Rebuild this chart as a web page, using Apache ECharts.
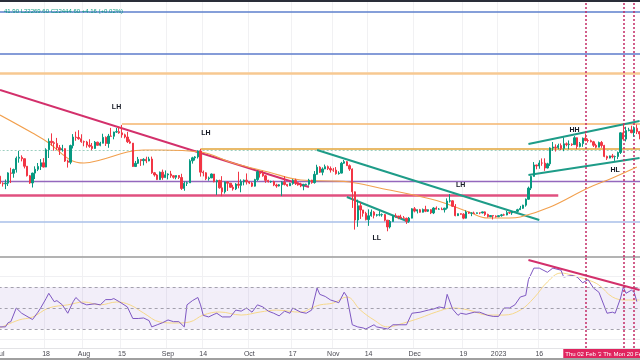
<!DOCTYPE html>
<html><head><meta charset="utf-8">
<script src="https://cdn.jsdelivr.net/npm/echarts@6/dist/echarts.min.js"></script>
<style>html,body{margin:0;padding:0;background:#fff;overflow:hidden}#c{width:640px;height:360px}</style>
</head><body><div id="c"></div>
<script>
// ---------- DATA ----------
const months = [[2022,7,31],[2022,8,31],[2022,9,30],[2022,10,31],[2022,11,30],[2022,12,31],[2023,1,31],[2023,2,23]];
// candles: [open, close, low, high]
const jul = [[19930,19270,18990,20860],[19270,19240,19000,19380],[19240,19300,18780,19630],[19300,20230,19050,20290],[20230,20190,19310,20710],[20190,20550,19790,20630],[20550,21640,20260,21810],[21640,21730,21200,22380],[21730,21590,21330,21930],[21590,20860,20650,21600],[20860,19970,19900,20860],[19970,19320,19240,20040],[19320,20210,18920,20250],[20210,20570,19670,20850],[20570,20840,20400,21170],[20840,21190,20500,21550],[21190,20780,20740,21650],[20780,22490,20770,22650],[22490,23390,21660,23700],[23390,23230,22910,24250],[23230,23160,22400,23390],[23160,22710,22480,23750],[22710,22470,21960,22990],[22470,22610,22300,23010],[22610,21360,21270,22650],[21360,21240,20730,21490],[21240,22930,21050,23030],[22930,23840,22630,24170],[23840,23800,23440,24440],[23800,23660,23550,24610],[23660,23340,23220,24150]];
const aug = [[23340,23310,22860,23460],[23310,22980,22710,23430],[22980,22850,22700,23610],[22850,22630,22450,23200],[22630,23290,22590,23420],[23290,22960,22930,23340],[22960,23180,22860,23330],[23180,23810,23160,24210],[23810,23150,22890,23910],[23150,23950,22700,24190],[23950,23930,23910,24870],[23930,24400,23600,24440],[24400,24440,24300,24860],[24440,24310,24200,25010],[24310,24090,23770,25210],[24090,23850,23700,24220],[23850,23340,23200,24420],[23340,23190,23120,23590],[23190,20830,20790,23200],[20830,21140,20850,21370],[21140,21520,21080,21770],[21520,21400,20890,21520],[21400,21530,20940,21640],[21530,21370,21150,21790],[21370,21560,21340,21780],[21560,20240,20140,21800],[20240,20040,19890,20320],[20040,19620,19580,20130],[19620,20300,19590,20360],[20300,19800,19600,20540],[19800,20050,19800,20460]];
const sep = [[20050,20130,19640,20190],[20130,19970,19780,20420],[19970,19830,19700,20010],[19830,19990,19650,20000],[19990,19810,19670,20020],[19810,18840,18710,20150],[18840,19290,18640,19440],[19290,19330,19050,19440],[19330,21380,19320,21540],[21380,21680,21110,21780],[21680,21770,21410,21850],[21770,22370,21610,22440],[22370,20300,19890,22580],[20300,20240,19910,20450],[20240,19700,19570,20300],[19700,19770,19520,19890],[19770,20130,19760,20170],[20130,19420,19380,20130],[19420,19540,18290,19620],[19540,18890,18820,19610],[18890,18550,18180,19930],[18550,19410,18400,19460],[19410,19300,18620,19480],[19300,18940,18900,19290],[18940,18800,18650,19160],[18800,19220,18700,19300],[19220,19110,18850,20340],[19110,19430,18510,19640],[19430,19570,19110,19630],[19570,19430,19180,20180]];
const oct = [[19430,19310,19220,19470],[19310,19040,18960,19390],[19040,19620,19000,19690],[19620,20340,19500,20450],[20340,20160,19800,20360],[20160,19960,19880,20430],[19960,19550,19330,20040],[19550,19420,19360,19600],[19420,19450,19330,19520],[19450,19140,19040,19520],[19140,19050,18900,19250],[19050,19160,19010,19220],[19160,19380,18190,19480],[19380,19190,19100,19930],[19190,19070,18990,19210],[19070,19270,19060,19350],[19270,19550,19160,19660],[19550,19330,19140,19700],[19330,19140,19080,19360],[19140,19050,18950,19340],[19050,19170,18680,19250],[19170,19210,19120,19250],[19210,19570,19080,19690],[19570,19350,19250,19600],[19350,20100,19260,20400],[20100,20770,20060,21000],[20770,20290,20220,20860],[20290,20600,20010,20750],[20600,20820,20580,21020],[20820,20640,20500,20930],[20640,20500,20260,20840]];
const nov = [[20500,20490,20330,20700],[20490,20160,20070,20780],[20160,20210,20070,20380],[20210,21150,20180,21280],[21150,21300,21090,21460],[21300,20910,20880,21360],[20910,20590,20420,21030],[20590,18550,17230,20650],[18550,16300,15600,18580],[16300,17400,15800,17900],[17400,17070,16380,17650],[17070,16810,16550,17080],[16810,16330,16270,16930],[16330,16620,15870,17120],[16620,16900,16550,17110],[16900,16660,16420,16980],[16660,16690,16560,16760],[16690,16700,16580,16980],[16700,16710,16550,16800],[16710,16290,16200,16750],[16290,15790,15480,16290],[15790,16190,15680,16300],[16190,16610,16170,16680],[16610,16600,16460,16800],[16600,16520,16360,16600],[16520,16460,16400,16700],[16460,16430,16400,16600],[16430,16210,16010,16480],[16210,16440,16120,16530],[16440,17160,16430,17210]];
const dec = [[17160,16980,16880,17300],[16980,17090,16800,17100],[17090,16890,16860,17150],[16890,17110,16880,17180],[17110,16970,16900,17400],[16970,17090,16910,17110],[17090,16840,16750,17130],[16840,17220,16750,17290],[17220,17130,17110,17350],[17130,17130,17090,17220],[17130,17090,17070,17260],[17090,17210,16870,17240],[17210,17780,17100,18000],[17780,17800,17660,18360],[17800,17360,17300,17850],[17360,16630,16580,17530],[16630,16780,16600,16800],[16780,16740,16700,16800],[16740,16440,16360,16820],[16440,16910,16410,17040],[16910,16820,16760,16920],[16820,16830,16590,16870],[16830,16800,16780,16940],[16800,16850,16790,16870],[16850,16840,16740,16860],[16840,16920,16800,16940],[16920,16720,16610,16960],[16720,16550,16490,16780],[16550,16640,16520,16660],[16640,16600,16340,16650],[16600,16550,16490,16650]];
const jan = [[16550,16630,16520,16640],[16630,16690,16550,16760],[16690,16680,16620,16780],[16680,16860,16660,17000],[16860,16840,16760,16880],[16840,16950,16690,16990],[16950,16960,16910,16970],[16960,17090,16910,17160],[17090,17200,17080,17390],[17200,17450,17150,17480],[17450,17930,17330,17990],[17930,18870,17900,19000],[18870,19910,18700,19970],[19910,20980,19890,21260],[20980,20880,20570,21000],[20880,21170,20620,21440],[21170,21160,20900,21620],[21160,20690,20420,21630],[20690,21090,20660,21190],[21090,22680,20890,22740],[22680,22780,22380,23310],[22780,22720,22310,23060],[22720,22930,22540,23130],[22930,22640,22470,23160],[22640,23120,22350,23800],[23120,23030,22860,23260],[23030,23080,22540,23480],[23080,23030,22890,23160],[23030,23770,23000,23950],[23770,22840,22560,23800],[22840,23140,22740,23310]];
const feb = [[23140,23720,22800,23790],[23720,23470,23380,24240],[23470,23450,23250,23680],[23450,23330,23270,23570],[23330,22960,22780,23430],[22960,22760,22640,23130],[22760,23260,22750,23360],[23260,22940,22700,23420],[22940,21820,21740,23010],[21820,21650,21470,21900],[21650,21870,21630,21900],[21870,21790,21630,22070],[21790,21810,21380,21900],[21810,22220,21550,22310],[22220,24310,22060,24370],[24310,23620,23540,25240],[23620,24570,23370,25000],[24570,24640,24480,24880],[24640,24330,24260,25120],[24330,24830,23880,25040],[24830,24440,24170,25250],[24440,24190,23600,24470],[24190,23950,23620,24560]];

// moving average (orange), sampled: day index from Jul 1, price
const maDays = [0,12,18,26,31,37,47,53,59,74,86,99,111,122,129,140,159,166,173,180,188,192,203,217,226,235];
const maVals = [26380,24290,23210,21470,21170,21470,22260,22470,22470,22260,21170,20320,19585,19495,19405,18880,17950,17460,16910,16450,16450,16530,17300,18880,19770,20790];

// RSI (purple) sampled
const rsiDays = [0,2,3,4,6,8,12,14,15,17,18,20,21,23,25,27,28,30,32,35,37,39,41,42,44,47,49,51,53,55,56,58,60,62,64,66,68,69,71,73,74,75,77,79,80,82,85,87,89,91,93,95,97,99,101,103,105,107,108,111,113,115,117,118,120,122,124,125,127,128,130,132,134,135,138,139,143,145,148,150,152,155,158,160,162,164,165,167,169,170,172,175,177,180,182,184,186,188,190,192,194,195,197,199,202,204,207,208,211,213,215,217,219,221,224,226,227,229,230,231,233,234,235];
const rsiVals = [32,32,36,37,50,45,39,46,50,59,64,56,57,53,45,56,60,55,53,54,53,58,58,59,56,51,40,40,40.5,38,32,34,36,38.6,37,37,32,53,57,60,53,43,41.5,44,45,41.5,41.5,48,47,50,46,53,51,47,45,42.5,47,45,50,46,45,48,69,63,61,57.6,56,55,65,61,34,32,31,30,34,32,30,34,34,34,45,46,48,49,51,50,63,49,43,45,44,46,46,43,42,42,50,50,53,60.5,62,77,88,88,84,88,86,79.5,81,79.5,74,77,69,65,45,46,45,59.5,70,64,67,65,56];
// RSI moving average (yellow) sampled
const rsiMaDays = [0,7,12,18,25,31,37,43,48,53,59,65,70,75,81,89,96,102,111,115,118,123,128,133,138,143,149,155,161,167,173,180,186,192,197,202,207,211,217,221,226,231,236];
const rsiMaVals = [31,38.6,41.4,50,53,55.7,53,55.7,52.9,45.2,36.7,35.7,36.7,43.3,46.2,43.3,46.2,48,46,50,52.9,54.8,60.5,48,38.6,32,35.7,40.5,46.2,50,48,43.3,43.3,48,59.5,74.8,83.3,81.4,76.7,71.9,60.5,57.6,57.6];

// horizontal price levels
const fullLevels = [42300, 34900, 31980, 19495, 16155];
const lastClose = 22444.6;
const segStartDay = [45, 74, 0];
const segEndDay = [237, 237, 206];
const segPrice = [25316, 22575, 18281];
// trend lines (day, price) -> (day, price)
const trendA = [[0,29590],[114,18970]];
const trendB = [[117,22470],[199,16305]];
const trendC = [[128,18117],[151,16155]];
const trendD = [[195,23100],[236,25670]];
const trendE = [[195,20040],[236,21665]];
const rsiTrend = [[195,95.7],[236,67.1]];
// swing labels
const swingText = ['LH','LH','LH','LL','HH','HL'];
const swingDay = [43,76,170,139,212,227];
const swingPrice = [27360,24290,19140,15010,24630,20500];
// vertical markers
const markerDates = ['2023-02-02','2023-02-16','2023-02-20'];
const markerText = ["Thu 02 Feb '23","Thu 16 Feb '23","Mon 20 Feb '23"];
// time axis ticks
const tickDays = [0,17,31,45,62,75,92,108,123,136,153,171,184,199];
const tickText = ['Jul','18','Aug','15','Sep','14','Oct','17','Nov','14','Dec','19','2023','16'];
const legendText = '41.90 L22269.60 C22444.60 +4.16 (+0.02%)';

// ---------- BUILD ----------
const cats = [];
months.forEach(([y,m,n]) => { for (let d = 1; d <= n; d++) cats.push(y + '-' + String(m).padStart(2,'0') + '-' + String(d).padStart(2,'0')); });
const candles = [].concat(jul, aug, sep, oct, nov, dec, jan, feb);
const pairs = (days, vals) => days.map((d, i) => [cats[d], vals[i]]);
const seg = (a, b) => [{coord: [cats[a[0]], a[1]]}, {coord: [cats[b[0]], b[1]]}];

const band = 2.71;
const N = cats.length;
const gLeft = -band / 2;
const gWidth = band * N;
const FONT = 'Liberation Sans';
const isTick = (i) => tickDays.indexOf(i) >= 0;

const up = '#089981', down = '#f23645';
const teal = '#1e9c88', crimson = '#d3306b';

const fullLevelStyle = [
  {color:'#5d7fcc', width:1.5}, {color:'#5d7bcb', width:1.5}, {color:'#f7c891', width:2.5},
  {color:'#9467bd', width:1.3}, {color:'#a8bfe8', width:1.5}];
const segStyle = [{color:'#f4b56d', width:1.5}, {color:'#e2a43a', width:1.5}, {color:'#e0507f', width:2.5}];

const mainLines = [];
fullLevels.forEach((p, i) => mainLines.push({yAxis: p, lineStyle: Object.assign({type:'solid'}, fullLevelStyle[i])}));
mainLines.push({yAxis: lastClose, lineStyle: {color:'#9dcfc0', width:1, type:[2,2]}});
segPrice.forEach((p, i) => { const s = seg([segStartDay[i], p], [segEndDay[i], p]); s[0].lineStyle = Object.assign({type:'solid'}, segStyle[i]); mainLines.push(s); });
[[trendA, crimson, 2], [trendB, teal, 2], [trendC, teal, 2], [trendD, teal, 2], [trendE, teal, 2]].forEach(([t, c, w]) => {
  const s = seg(t[0], t[1]); s[0].lineStyle = {color: c, width: w, type: 'solid'}; mainLines.push(s);
});
markerDates.forEach(d => mainLines.push({xAxis: d, lineStyle: {color:'#c42a66', width:1.5, type:[2,2]}}));

const rsiLines = [];
[30, 50, 70].forEach(v => rsiLines.push({yAxis: v, lineStyle: {color:'#a3a0ad', width:1, type:[3,3]}}));
[20, 80].forEach(v => rsiLines.push({yAxis: v, lineStyle: {color:'#f0f0f3', width:1, type:'solid'}}));
{ const s = seg(rsiTrend[0], rsiTrend[1]); s[0].lineStyle = {color: crimson, width: 2, type:'solid'}; rsiLines.push(s); }
markerDates.forEach((d, i) => rsiLines.push({xAxis: d, lineStyle: {color:'#c42a66', width:1.5, type:[2,2]},
  label: {show: true, position: 'start', formatter: markerText[i], color:'#fff', backgroundColor:'#e0245e',
          fontSize: 6, fontFamily: FONT, padding: [2,2,2,2], distance: 1}}));

const chart = echarts.init(document.getElementById('c'), null, {renderer: 'canvas'});
chart.setOption({
  animation: false,
  backgroundColor: '#fff',
  title: {text: legendText, left: -1, top: 3, textStyle: {color: '#089981', fontSize: 6, fontWeight: 'normal', fontFamily: FONT}},
  grid: [
    {left: gLeft, width: gWidth, top: 2, height: 255, outerBoundsMode: 'none', containLabel: false},
    {left: gLeft, width: gWidth, top: 258, height: 90, outerBoundsMode: 'none', containLabel: false}
  ],
  xAxis: [
    {type:'category', data: cats, gridIndex: 0, boundaryGap: true,
     axisLine: {show: true, lineStyle: {color:'#9a9a9a', width: 1.5}}, axisTick: {show:false}, axisLabel: {show:false},
     splitLine: {show: true, interval: (i) => isTick(i), lineStyle: {color:'#f1f1f3', width:1}}},
    {type:'category', data: cats, gridIndex: 1, boundaryGap: true,
     axisLine: {show: true, lineStyle: {color:'#e3e3e6', width: 1}}, axisTick: {show:false},
     axisLabel: {show: true, interval: (i) => isTick(i), formatter: (v, i) => tickText[tickDays.indexOf(i)] || '',
                 fontSize: 7, color: '#4a4a52', margin: 3, fontFamily: FONT},
     splitLine: {show: true, interval: (i) => isTick(i), lineStyle: {color:'#f1f1f3', width:1}}}
  ],
  yAxis: [
    {type:'log', logBase: 10, gridIndex: 0, min: 13758, max: 44290, show: false, splitLine: {show:false}},
    {type:'value', gridIndex: 1, min: 11.9, max: 97.62, show: false, splitLine: {show:false}}
  ],
  graphic: [
    {type:'rect', shape:{x:0, y:0, width:640, height:2}, style:{fill:'#2a2e39'}, z: 100},
    {type:'rect', shape:{x:0, y:358, width:640, height:2}, style:{fill:'#a0a0a0'}, z: 100}
  ],
  series: [
    {type:'line', xAxisIndex: 0, yAxisIndex: 0, data: pairs(maDays, maVals), smooth: 0.4, symbol: 'none',
     lineStyle: {color:'#f2a04e', width: 1.1}, z: 3,
     markLine: {silent: true, symbol: ['none','none'], label: {show:false}, data: mainLines, z: 2}},
    {type:'candlestick', xAxisIndex: 0, yAxisIndex: 0, data: candles, barWidth: 1.8, z: 4,
     itemStyle: {color: up, color0: down, borderColor: up, borderColor0: down, borderWidth: 1},
     markPoint: {symbol: 'circle', symbolSize: 0, silent: true,
       label: {show: true, position: 'inside', formatter: (p) => p.name, color: '#131722', fontSize: 7, fontWeight: 'bold', fontFamily: FONT},
       data: swingText.map((t, i) => ({name: t, coord: [cats[swingDay[i]], swingPrice[i]]}))}},
    {type:'line', xAxisIndex: 1, yAxisIndex: 1, data: pairs(rsiMaDays, rsiMaVals), smooth: 0.4, symbol: 'none',
     lineStyle: {color:'#f6d88a', width: 1}, z: 3,
     markArea: {silent: true, itemStyle: {color: 'rgba(126,87,194,0.1)', borderWidth: 0},
       data: [[{coord: [cats[0], 30]}, {coord: [cats[N - 1], 70]}]]},
     markLine: {silent: true, symbol: ['none','none'], label: {show:false}, data: rsiLines, z: 5}},
    {type:'line', xAxisIndex: 1, yAxisIndex: 1, data: pairs(rsiDays, rsiVals), symbol: 'none',
     lineStyle: {color:'#7e57c2', width: 1}, z: 4}
  ]
});
</script></body></html>
